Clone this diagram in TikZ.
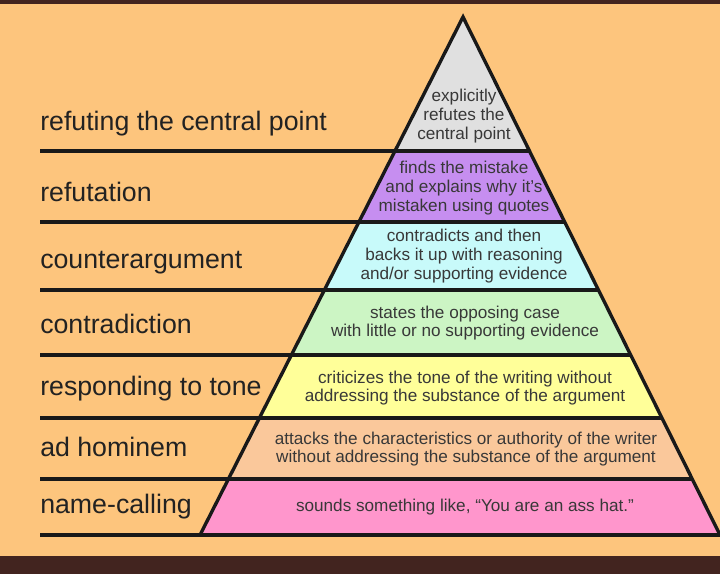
\documentclass[tikz,border=0pt]{standalone}
\usepackage{fontspec}
\setmainfont{Liberation Sans}
\usepackage{xcolor}
\usepackage{tikz}
\definecolor{bgorange}{RGB}{253,197,125}
\definecolor{darkband}{RGB}{66,36,31}
\definecolor{lvgray}{RGB}{224,224,224}
\definecolor{lvpurple}{RGB}{198,142,240}
\definecolor{lvcyan}{RGB}{200,250,250}
\definecolor{lvgreen}{RGB}{204,245,196}
\definecolor{lvyellow}{RGB}{255,255,153}
\definecolor{lvpeach}{RGB}{250,200,155}
\definecolor{lvpink}{RGB}{255,150,204}
\definecolor{ink}{RGB}{34,34,34}

\begin{document}
\begin{tikzpicture}[x=0.025cm,y=-0.025cm,
  levelline/.style={line width=2.4pt,black!90},
  rowlabel/.style={font=\fontsize{19pt}{22pt}\selectfont,text=ink,anchor=base west,inner sep=0pt},
  rowtext/.style={font=\fontsize{12.2pt}{13.4pt}\selectfont,text=ink!90,align=center,inner sep=0pt}]
\useasboundingbox (0,0) rectangle (720,574);
% background
\fill[bgorange] (0,0) rectangle (720,574);
\fill[darkband] (0,0) rectangle (720,3.5);
\fill[darkband] (0,556) rectangle (720,574);
% pyramid bands
\coordinate (apex) at (463,17);
\coordinate (baseL) at (200,535);
\coordinate (baseR) at (720,535);
\begin{scope}
  \clip (apex) -- (baseL) -- (baseR) -- cycle;
  \foreach \ya/\yb/\col in {0/151/lvgray, 151/222/lvpurple, 222/290/lvcyan,
      290/355/lvgreen, 355/418/lvyellow, 418/479/lvpeach, 479/535/lvpink}
    \fill[\col] (0,\ya) rectangle (720,\yb);
\end{scope}
\draw[levelline,line join=miter] (baseL) -- (apex) -- (baseR);
% level lines
\foreach \y in {151,222,290,355,418,479,535}
  \draw[levelline] (40,\y) -- ({463+0.496*(\y-17)},\y);
% row labels
\foreach \name/\y/\txt in {refute/130/refuting the central point, refutation/201/refutation,
    counter/268/counterargument, contra/333/contradiction, tone/395/responding to tone,
    hominem/456/ad hominem, namecall/513/name-calling}
  \node[rowlabel] (lbl-\name) at (40,\y) {\txt};
% descriptions
\node[rowtext] (txt-refute) at (464,116) {explicitly\\refutes the\\central point};
\node[rowtext] (txt-refutation) at (464,188) {finds the mistake\\and explains why it's\\mistaken using quotes};
\node[rowtext] (txt-counter) at (464,256) {contradicts and then\\backs it up with reasoning\\and/or supporting evidence};
\node[rowtext] (txt-contra) at (465,323) {states the opposing case\\with little or no supporting evidence};
\node[rowtext] (txt-tone) at (465,388) {criticizes the tone of the writing without\\addressing the substance of the argument};
\node[rowtext] (txt-hominem) at (466,449) {attacks the characteristics or authority of the writer\\without addressing the substance of the argument};
\node[rowtext] (txt-namecall) at (465,507) {sounds something like, “You are an ass hat.”};
\end{tikzpicture}
\end{document}
